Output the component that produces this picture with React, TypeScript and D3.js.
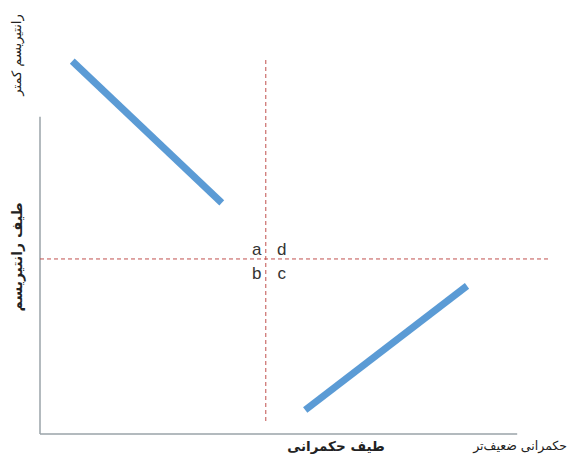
import React from 'react';
import * as d3 from 'd3';

// abstract 0..100 coordinates of the diagram
const upperLine: [number, number][] = [[6.3, 99.7], [35.5, 61.8]];
const lowerLine: [number, number][] = [[51.8, 6.4], [83.4, 39.6]];
const vGuide = { x: 44.1, y0: 3.2, y1: 100 };
const hGuide = { y: 46.8, x0: 0, x1: 99.8 };
const axisEnds = { xMax: 93.2, yMax: 84.8 };
const quadrants = [
  { label: 'a', side: -1, row: -1 },
  { label: 'd', side: 1, row: -1 },
  { label: 'b', side: -1, row: 1 },
  { label: 'c', side: 1, row: 1 },
];
const yTopLabel = 'رانتیریسم کمتر';
const yAxisLabel = 'طیف رانتیریسم';
const xAxisLabel = 'طیف حکمرانی';
const xEndLabel = 'حکمرانی ضعیف‌تر';

const W = 567;
const H = 463;

const App = () => {
  const x = d3.scaleLinear().domain([0, 100]).range([40, 552]);
  const y = d3.scaleLinear().domain([0, 100]).range([434, 60]);
  const line = d3.line<[number, number]>().x(d => x(d[0])).y(d => y(d[1]));

  const arabic = '"DejaVu Sans", sans-serif';
  const red = '#c0504d';

  return (
    <svg width={W} height={H} style={{ position: 'absolute', left: 0, top: 0, background: '#fff' }}>
      {/* axes */}
      <line x1={x(0)} y1={y(axisEnds.yMax)} x2={x(0)} y2={y(0)} stroke="#9aa3a8" strokeWidth={1.5} />
      <line x1={x(0)} y1={y(0)} x2={x(axisEnds.xMax)} y2={y(0)} stroke="#9aa3a8" strokeWidth={1.5} />

      {/* dashed guides */}
      <line x1={x(vGuide.x)} y1={y(vGuide.y1)} x2={x(vGuide.x)} y2={y(vGuide.y0)}
        stroke={red} strokeWidth={1} strokeDasharray="4,3" />
      <line x1={x(hGuide.x0)} y1={y(hGuide.y)} x2={x(hGuide.x1)} y2={y(hGuide.y)}
        stroke={red} strokeWidth={1} strokeDasharray="4,3" />

      {/* blue lines */}
      <path d={line(upperLine) ?? ''} fill="none" stroke="#5b9bd5" strokeWidth={7} />
      <path d={line(lowerLine) ?? ''} fill="none" stroke="#5b9bd5" strokeWidth={7} />

      {/* quadrant letters */}
      {quadrants.map(q => (
        <text key={q.label}
          x={x(vGuide.x) + (q.side < 0 ? -9 : 16)}
          y={y(hGuide.y) + (q.row < 0 ? -4 : 20)}
          textAnchor="middle"
          fontFamily='"Liberation Sans", Arial, sans-serif'
          fontSize={17}
          fill="#333">
          {q.label}
        </text>
      ))}

      {/* labels */}
      <text transform={`translate(21, 55) rotate(-90)`} textAnchor="middle"
        fontFamily={arabic} fontSize={13} fill="#222">{yTopLabel}</text>
      <text transform={`translate(22, 257) rotate(-90)`} textAnchor="middle"
        fontFamily={arabic} fontSize={14} fontWeight="bold" fill="#222">{yAxisLabel}</text>
      <text x={336} y={451} textAnchor="middle"
        fontFamily={arabic} fontSize={13.5} fontWeight="bold" fill="#222">{xAxisLabel}</text>
      <text x={567} y={450} textAnchor="end"
        fontFamily={arabic} fontSize={12.5} fill="#222">{xEndLabel}</text>
    </svg>
  );
};

export default App;
